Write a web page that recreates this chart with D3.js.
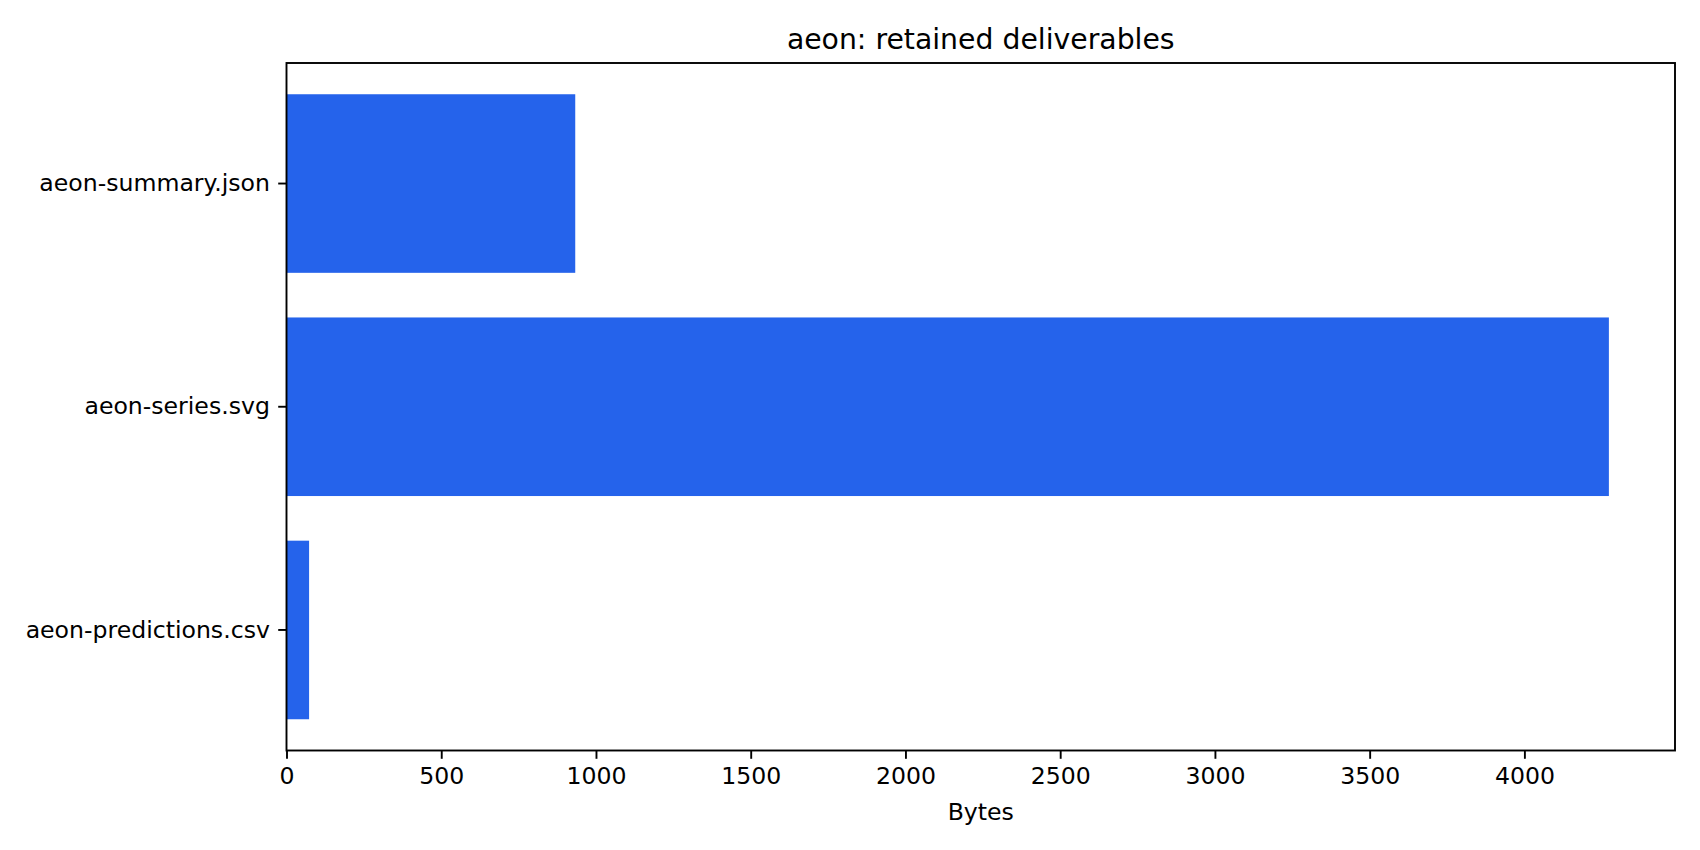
<!DOCTYPE html>
<html>
<head>
<meta charset="utf-8">
<script src="https://cdn.jsdelivr.net/npm/d3@7"></script>
<style>
  html, body { margin: 0; padding: 0; background: #fff; }
  svg { display: block; font-family: "DejaVu Sans", sans-serif; }
</style>
</head>
<body>
<svg id="chart" width="1700" height="850"></svg>
<script>
const title = "aeon: retained deliverables";
const xLabel = "Bytes";
const categories = ["aeon-summary.json", "aeon-series.svg", "aeon-predictions.csv"];
const bytes = [933, 4273, 73];
const xTicks = [0, 500, 1000, 1500, 2000, 2500, 3000, 3500, 4000];

const W = 1700, H = 850;
const m = { left: 286.5, right: 1675, top: 63, bottom: 750.5 };
const svg = d3.select("#chart");
const color = "#2563eb";
const fs = 23.6;

const x = d3.scaleLinear().domain([0, d3.max(bytes) * 1.05]).range([m.left, m.right]);
const y = d3.scaleBand().domain(categories).range([m.top, m.bottom]).paddingInner(0.2).paddingOuter(0.14);

svg.append("g").selectAll("rect").data(categories).join("rect")
  .attr("x", x(0))
  .attr("y", d => y(d))
  .attr("width", (d, i) => x(bytes[i]) - x(0))
  .attr("height", y.bandwidth())
  .attr("fill", color);

// frame
svg.append("rect")
  .attr("x", m.left).attr("y", m.top)
  .attr("width", m.right - m.left).attr("height", m.bottom - m.top)
  .attr("fill", "none").attr("stroke", "#000").attr("stroke-width", 1.9);

const xAxis = svg.append("g")
  .attr("transform", `translate(0,${m.bottom})`)
  .call(d3.axisBottom(x).tickValues(xTicks).tickFormat(d3.format("d")).tickSize(8.3).tickPadding(8));
xAxis.select(".domain").remove();
xAxis.selectAll(".tick line").attr("stroke", "#000").attr("stroke-width", 1.9);
xAxis.selectAll(".tick text").attr("font-size", fs).attr("fill", "#000")
  .attr("font-family", "DejaVu Sans");

const yAxis = svg.append("g")
  .attr("transform", `translate(${m.left},0)`)
  .call(d3.axisLeft(y).tickSize(8.3).tickPadding(8.3));
yAxis.select(".domain").remove();
yAxis.selectAll(".tick line").attr("stroke", "#000").attr("stroke-width", 1.9);
yAxis.selectAll(".tick text").attr("font-size", fs).attr("fill", "#000")
  .attr("font-family", "DejaVu Sans");

svg.append("text")
  .attr("x", (m.left + m.right) / 2).attr("y", 820)
  .attr("text-anchor", "middle").attr("font-size", fs).attr("fill", "#000")
  .text(xLabel);

svg.append("text")
  .attr("x", (m.left + m.right) / 2).attr("y", 48.5)
  .attr("text-anchor", "middle").attr("font-size", 28.3).attr("fill", "#000")
  .text(title);
</script>
</body>
</html>
